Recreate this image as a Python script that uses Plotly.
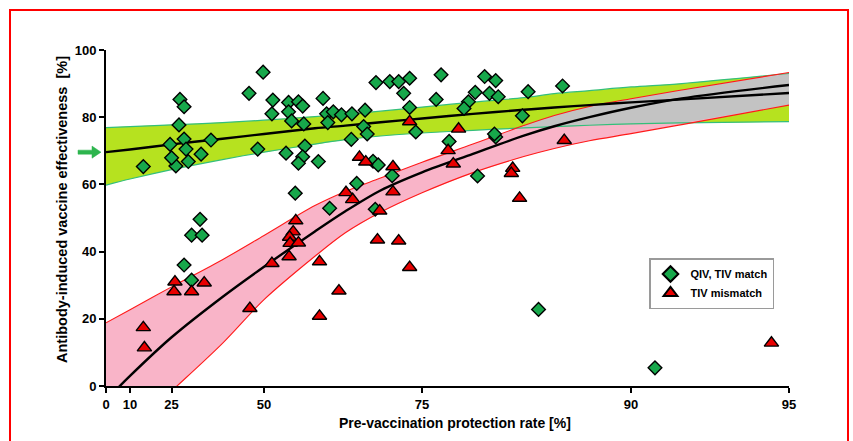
import numpy as np
import plotly.graph_objects as go

# Season-level observations: pre-vaccination protection rate (%) vs effectiveness (%)
match_rate = [49.8, 46.6, 27.7, 29.0, 51.9, 51.7, 55.1, 57.0, 57.8, 55.1, 55.7, 58.0, 61.4,
              62.0, 63.1, 62.2, 64.4, 66.0, 27.4, 29.0, 24.5, 29.6, 36.9, 34.1, 30.3, 26.4,
              25.0, 15.1, 48.6, 54.6, 58.2, 57.8, 57.0, 60.6, 56.4, 62.5, 65.9, 33.8, 31.3,
              34.4, 29.0, 31.3, 69.4, 71.2, 72.3, 73.6, 77.0, 72.9, 73.6, 76.5, 81.0, 81.9,
              80.2, 79.6, 79.2, 81.4, 82.1, 84.3, 86.5, 83.9, 67.9, 67.7, 68.2, 74.3, 77.8,
              81.9, 81.8, 66.7, 69.0, 69.7, 71.5, 80.4, 69.3, 85.0, 91.0]
match_eff = [93.4, 87.1, 85.3, 83.1, 85.1, 81.0, 84.4, 84.6, 83.3, 81.6, 78.9, 78.0, 85.6,
             81.0, 81.6, 78.4, 80.7, 81.0, 77.7, 73.5, 71.9, 70.5, 73.2, 69.0, 66.8, 65.5,
             67.9, 65.3, 70.5, 69.3, 71.4, 68.2, 66.3, 66.8, 57.4, 52.9, 73.4, 49.6, 44.9,
             44.9, 36.0, 31.5, 90.3, 90.6, 90.6, 91.6, 92.6, 87.1, 82.9, 85.3, 92.1, 90.9,
             87.4, 84.6, 82.6, 87.1, 86.1, 87.6, 89.3, 80.4, 82.1, 77.2, 75.0, 75.6, 72.8,
             74.1, 75.0, 60.3, 66.9, 65.8, 62.6, 62.5, 52.6, 22.8, 5.4]

mismatch_rate = [26.1, 25.8, 31.3, 35.0, 15.1, 15.5, 46.8, 51.7, 56.5, 56.0, 55.3, 55.4,
                 57.0, 55.2, 60.8, 64.0, 60.8, 78.7, 73.6, 67.1, 68.0, 71.6, 77.7, 78.2,
                 86.6, 83.2, 83.1, 83.7, 65.1, 66.1, 71.6, 69.9, 69.6, 72.3, 73.6, 94.6]
mismatch_eff = [31.0, 28.1, 28.1, 30.7, 17.4, 11.4, 23.1, 36.5, 49.2, 45.9, 44.3, 42.5,
                42.6, 38.5, 37.0, 28.3, 20.8, 76.5, 78.7, 68.1, 66.7, 65.3, 70.1, 66.1,
                73.1, 64.8, 63.3, 55.9, 57.6, 55.5, 57.8, 52.1, 43.5, 43.2, 35.3, 12.8]

# Fitted curves with their 95% bands, sampled along the protection-rate axis
curve_rate = [0, 10, 25, 40, 50, 60, 65, 70, 75, 80, 84, 86, 88, 90, 92, 95]
match_fit = [69.6, 70.4, 71.9, 73.6, 75.0, 76.7, 77.5, 78.5, 79.6, 81.0, 82.2, 82.9, 83.6,
             84.4, 85.3, 87.2]
match_upper = [76.9, 77.2, 77.7, 78.4, 79.1, 80.2, 80.9, 81.8, 83.0, 84.5, 85.8, 87.0, 87.9,
               89.0, 90.0, 93.0]
match_lower = [59.8, 61.6, 64.4, 67.4, 69.6, 72.0, 73.3, 74.4, 75.3, 76.1, 76.8, 77.2, 77.6,
               78.0, 78.3, 78.7]
mismatch_fit = [-4.2, 3.0, 14.5, 26.5, 35.5, 46.0, 52.0, 58.2, 63.6, 69.1, 74.5, 77.3, 80.0,
                82.8, 85.6, 89.6]
mismatch_upper = [18.8, 22.7, 29.5, 37.6, 44.8, 53.7, 57.9, 61.9, 66.6, 72.0, 77.5, 80.5,
                  83.2, 85.5, 88.1, 93.3]
mismatch_lower = [-22.0, -13.0, -1.5, 12.7, 25.7, 38.6, 45.6, 51.7, 57.5, 63.5, 68.3, 70.7,
                  73.0, 75.1, 77.8, 83.6]

tick_rates = [0, 10, 25, 50, 75, 90, 95]
y_ticks = [0, 20, 40, 60, 80, 100]
intercept_eff = match_fit[0]


def to_axis(rate):
    """Protection rate (%) -> position on the -ln(1 - p) axis."""
    return -np.log(1 - np.asarray(rate, dtype=float) / 100.0)


FONT = "Liberation Sans, Arial, Helvetica, sans-serif"
GREEN_FILL = "#b6e21f"
GREEN_EDGE = "#34bf7a"
PINK_FILL = "#f9b4c8"
RED_EDGE = "#ff1a1a"
GREY_FILL = "#c3c3c3"
DIAMOND = "#17a84b"
TRIANGLE = "#e80000"
SMOOTH = dict(shape="spline", smoothing=0.9)

cx = to_axis(curve_rate)
fig = go.Figure()


def band(upper, lower, color):
    fig.add_trace(go.Scatter(
        x=np.concatenate([cx, cx[::-1]]),
        y=np.concatenate([np.asarray(upper), np.asarray(lower)[::-1]]),
        fill="toself", fillcolor=color, mode="lines", line=dict(width=0),
        hoverinfo="skip", showlegend=False))


band(match_upper, match_lower, GREEN_FILL)
band(mismatch_upper, mismatch_lower, PINK_FILL)

# Region where both confidence bands overlap
ov_up = np.minimum(match_upper, mismatch_upper)
ov_lo = np.maximum(match_lower, mismatch_lower)
keep = ov_up > ov_lo
fig.add_trace(go.Scatter(
    x=np.concatenate([cx[keep], cx[keep][::-1]]),
    y=np.concatenate([ov_up[keep], ov_lo[keep][::-1]]),
    fill="toself", fillcolor=GREY_FILL, mode="lines", line=dict(width=0),
    hoverinfo="skip", showlegend=False))

for edge in (match_upper, match_lower):
    fig.add_trace(go.Scatter(x=cx, y=edge, mode="lines",
                             line=dict(color=GREEN_EDGE, width=1.2, **SMOOTH),
                             hoverinfo="skip", showlegend=False))
for edge in (mismatch_upper, mismatch_lower):
    fig.add_trace(go.Scatter(x=cx, y=edge, mode="lines",
                             line=dict(color=RED_EDGE, width=1.1, **SMOOTH),
                             hoverinfo="skip", showlegend=False))
for fit in (match_fit, mismatch_fit):
    fig.add_trace(go.Scatter(x=cx, y=fit, mode="lines",
                             line=dict(color="black", width=2.4, **SMOOTH),
                             hoverinfo="skip", showlegend=False))

fig.add_trace(go.Scatter(
    x=to_axis(match_rate), y=match_eff, mode="markers", name="QIV, TIV match",
    marker=dict(symbol="diamond", size=10.5, color=DIAMOND,
                line=dict(color="black", width=1.4)),
    cliponaxis=False))
fig.add_trace(go.Scatter(
    x=to_axis(mismatch_rate), y=mismatch_eff, mode="markers", name="TIV mismatch",
    marker=dict(symbol="triangle-up", size=12.5, color=TRIANGLE,
                line=dict(color="black", width=1.4)),
    cliponaxis=False))

# Layout geometry (pixels)
W, H = 853, 441
L, R, T, B = 106, 64, 50, 55
pw, ph = W - L - R, H - T - B


def px(xp):
    return (xp - L) / pw


def py(yp):
    return (H - B - yp) / ph


axis_common = dict(showline=True, linecolor="black", linewidth=2, ticks="outside",
                   ticklen=5, tickwidth=2, tickcolor="black", showgrid=False,
                   zeroline=False, mirror=False,
                   tickfont=dict(family=FONT, size=13, color="black", weight="bold"))

fig.update_layout(
    width=W, height=H,
    margin=dict(l=L, r=R, t=T, b=B),
    paper_bgcolor="white", plot_bgcolor="white",
    font=dict(family=FONT, color="black"),
    xaxis=dict(range=[0, float(to_axis(95))], tickvals=to_axis(tick_rates),
               ticktext=[str(v) for v in tick_rates], **axis_common),
    yaxis=dict(range=[0, 100], tickvals=y_ticks, **axis_common),
    legend=dict(x=px(649), y=py(258), xanchor="left", yanchor="top",
                bgcolor="white", bordercolor="#9a9a9a", borderwidth=1.5,
                font=dict(family=FONT, size=11, color="black", weight="bold"),
                tracegroupgap=0, itemsizing="constant"),
    annotations=[
        dict(text="Pre-vaccination protection rate [%]", xref="paper", yref="paper",
             x=px(455), y=py(433), showarrow=False,
             font=dict(family=FONT, size=14, weight="bold")),
        dict(text="Antibody-induced vaccine effectiveness  [%]", xref="paper",
             yref="paper", x=px(52), y=py(210), showarrow=False, textangle=-90,
             font=dict(family=FONT, size=14.5, weight="bold")),
    ],
    shapes=[
        # outer frame
        dict(type="rect", xref="paper", yref="paper", x0=px(10), x1=px(848),
             y0=py(460), y1=py(10), line=dict(color="#ff0000", width=2),
             layer="above"),
        # arrow marking the intercept of the matched-season fit
        dict(type="path", xref="paper", yref="y",
             path=(f"M {px(78)},{intercept_eff + 0.6} L {px(92)},{intercept_eff + 0.6} "
                   f"L {px(92)},{intercept_eff + 1.8} L {px(101)},{intercept_eff} "
                   f"L {px(92)},{intercept_eff - 1.8} L {px(92)},{intercept_eff - 0.6} "
                   f"L {px(78)},{intercept_eff - 0.6} Z"),
             fillcolor="#2db54e", line=dict(color="#2db54e", width=0.5),
             layer="above"),
    ],
)

fig.write_html("out.html")
